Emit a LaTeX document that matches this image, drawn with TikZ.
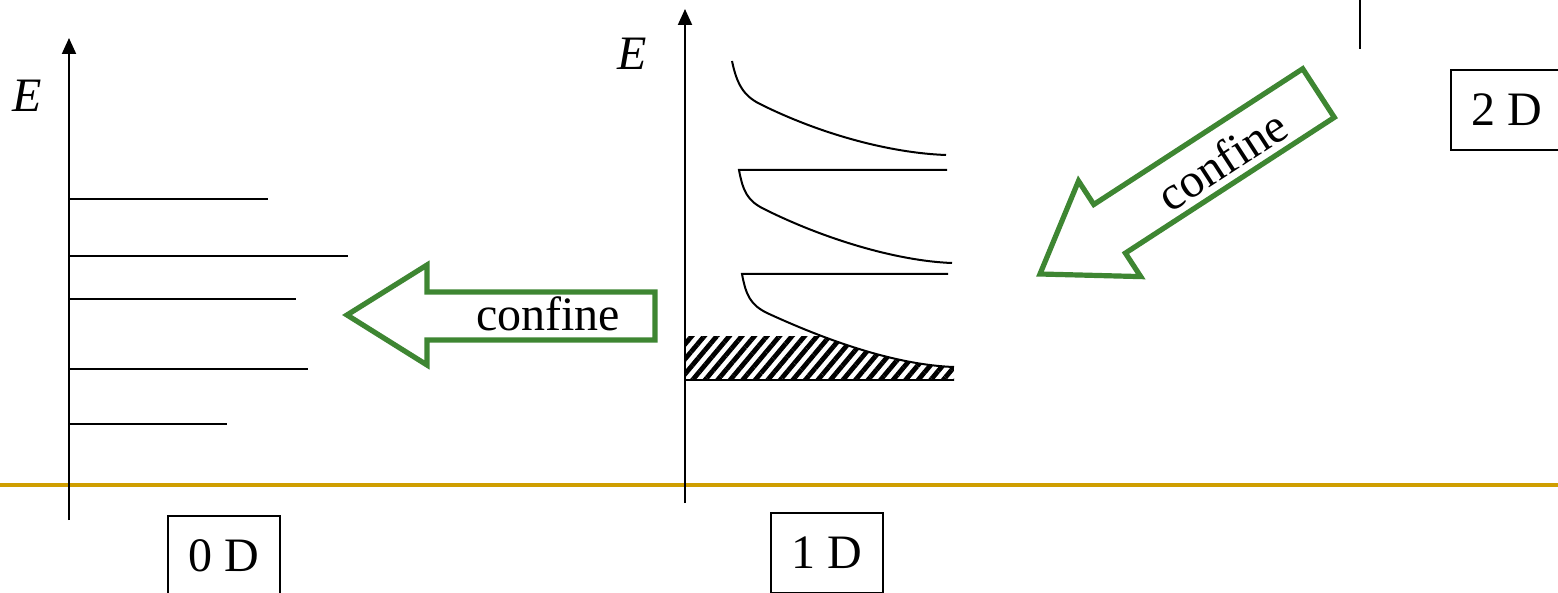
\documentclass[tikz,border=0pt]{standalone}
\usepackage{fontspec}
\setmainfont{Liberation Serif}
\usetikzlibrary{arrows.meta,patterns.meta}
\definecolor{confgreen}{RGB}{62,134,50}
\definecolor{rulegold}{RGB}{207,158,0}
\tikzset{
  dimbox/.style={draw,line width=0.8pt,minimum width=56pt,minimum height=40pt,inner sep=0pt},
  level/.style={line width=1pt},
  eaxis/.style={line width=1pt,-{Triangle[length=8pt,width=7pt]}},
  confarrow/.style={draw=confgreen,line width=2.6pt},
}
\begin{document}
\begin{tikzpicture}[x=0.5pt,y=-0.5pt,font=\fontsize{24}{28}\selectfont]
  \clip (0,0) rectangle (1558,593);
  % separator rule
  \draw[rulegold,line width=2pt] (0,485) -- (1558,485);
  % 0D: discrete levels
  \draw[eaxis] (69,520) -- (69,38);
  \node[anchor=base] (E0) at (27,112) {\textit{E}};
  \draw[level] (69,199) -- (268,199);
  \draw[level] (69,256) -- (348,256);
  \draw[level] (69,299) -- (296,299);
  \draw[level] (69,369) -- (308,369);
  \draw[level] (69,424) -- (227,424);
  \node[dimbox] (box0) at (224,556) {0 D};
  % 1D: subbands
  \draw[eaxis] (685,503) -- (685,9);
  \node[anchor=base] (E1) at (632,70) {\textit{E}};
  \draw[level] (732,61) .. controls (737,85) and (744,96) .. (760,104)
    .. controls (820,134) and (890,153) .. (946,155);
  \draw[level] (947,170) -- (739,170) .. controls (743,192) and (748,201) .. (764,209)
    .. controls (824,239) and (897,261) .. (952,263);
  \draw[level] (948,274) -- (742,274) .. controls (746,296) and (751,305) .. (767,313)
    .. controls (830,342) and (897,365) .. (954,367);
  \begin{scope}
    \clip (686,336) rectangle (954,380);
    \clip (742,274) .. controls (746,296) and (751,305) .. (767,313)
      .. controls (830,342) and (897,365) .. (954,367) -- (960,400) -- (680,400) -- (680,274) -- cycle;
    \fill[pattern={Lines[angle=50,distance=4.8pt,line width=2.4pt]}] (680,330) rectangle (960,385);
  \end{scope}
  \draw[level] (686,380) -- (953,380);
  \node[dimbox] (box1) at (827,553) {1 D};
  % 2D
  \draw[level] (1360,0) -- (1360,49);
  \node[dimbox] (box2) at (1507,110) {2 D};
  % confinement arrows
  \draw[confarrow] (347,315) -- (427,265) -- (427,292) -- (655,292) -- (655,340)
    -- (427,340) -- (427,365) -- cycle;
  \node[anchor=base] (conf1) at (548,330) {confine};
  \draw[confarrow] (1040,274) -- (1078.5,181) -- (1093.8,204.5) -- (1302.7,68.8)
    -- (1334.3,117.4) -- (1125.4,253.1) -- (1140.7,276.6) -- cycle;
  \node[rotate=33] (conf2) at (1222,160) {confine};
\end{tikzpicture}
\end{document}
